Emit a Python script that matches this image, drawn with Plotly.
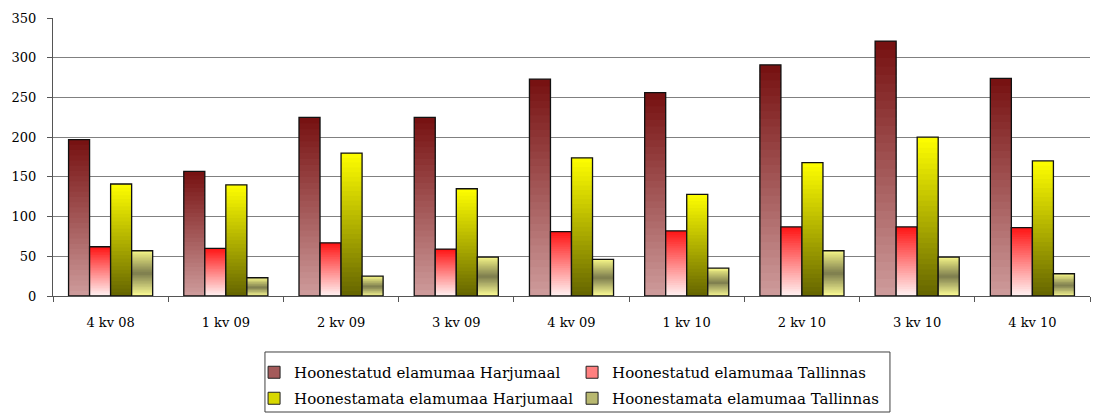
import plotly.graph_objects as go

categories = ["4 kv 08", "1 kv 09", "2 kv 09", "3 kv 09", "4 kv 09", "1 kv 10", "2 kv 10", "3 kv 10", "4 kv 10"]
built_harju = [197, 157, 225, 225, 273, 256, 291, 321, 274]
built_tallinn = [62, 60, 67, 59, 81, 82, 87, 87, 86]
unbuilt_harju = [141, 140, 180, 135, 174, 128, 168, 200, 170]
unbuilt_tallinn = [57, 23, 25, 49, 46, 35, 57, 49, 28]
series_names = [
    "Hoonestatud elamumaa Harjumaal",
    "Hoonestatud elamumaa Tallinnas",
    "Hoonestamata elamumaa Harjumaal",
    "Hoonestamata elamumaa Tallinnas",
]
y_ticks = [0, 50, 100, 150, 200, 250, 300, 350]

# gradient stops (fraction from bottom, rgb) -- styling only
gradients = [
    [(0.0, (206, 156, 156)), (1.0, (118, 16, 16))],
    [(0.0, (255, 242, 242)), (1.0, (255, 20, 20))],
    [(0.0, (100, 100, 0)), (1.0, (255, 255, 0))],
    [(0.0, (255, 255, 150)), (0.5, (125, 125, 78)), (1.0, (245, 245, 135))],
]
legend_colors = ["#a45a5a", "#ff8080", "#d8d800", "#b8b870"]

def interp(stops, t):
    for (t0, c0), (t1, c1) in zip(stops[:-1], stops[1:]):
        if t0 <= t <= t1:
            f = (t - t0) / (t1 - t0) if t1 > t0 else 0
            return "rgb(%d,%d,%d)" % tuple(round(a + (b - a) * f) for a, b in zip(c0, c1))
    return "rgb(%d,%d,%d)" % stops[-1][1]

N = 30
all_series = [built_harju, built_tallinn, unbuilt_harju, unbuilt_tallinn]
font_family = "DejaVu Serif"

fig = go.Figure()
for s, vals in enumerate(all_series):
    grp = "g%d" % s
    for i in range(N):
        t = (i + 0.5) / N
        scale = 1.0 if i == N - 1 else 1.8  # overlap to hide seams
        fig.add_trace(go.Bar(
            x=categories,
            y=[v / N * scale for v in vals],
            base=[v * i / N for v in vals],
            offsetgroup=grp,
            marker=dict(color=interp(gradients[s], t), line=dict(width=0)),
            showlegend=False,
            hoverinfo="skip",
        ))
    # outline
    fig.add_trace(go.Bar(
        x=categories, y=vals, offsetgroup=grp,
        marker=dict(color="rgba(0,0,0,0)", line=dict(color="#111111", width=1.3)),
        showlegend=False, name=series_names[s],
    ))
    # legend entry
    fig.add_trace(go.Bar(
        x=categories, y=[None] * len(categories), offsetgroup=grp,
        name=series_names[s],
        marker=dict(color=legend_colors[s], line=dict(color="#222222", width=1)),
        showlegend=True,
        legend="legend" if s < 2 else "legend2",
    ))

legend_common = dict(
    orientation="h", xanchor="left", yanchor="top",
    xref="container", yref="container",
    font=dict(family=font_family, size=15, color="#000000"),
    bgcolor="rgba(0,0,0,0)", borderwidth=0,
    entrywidth=273, itemwidth=30, tracegroupgap=0,
)

fig.update_layout(
    width=1097, height=416,
    margin=dict(l=53, r=7, t=18, b=120, autoexpand=False),
    barmode="group", bargap=0.27, bargroupgap=0,
    plot_bgcolor="white", paper_bgcolor="white",
    font=dict(family=font_family, size=13, color="#000000"),
    legend=dict(x=0.2316, y=1 - 356 / 416, **legend_common),
    legend2=dict(x=0.2316, y=1 - 382 / 416, **legend_common),
    shapes=[dict(type="rect", xref="paper", yref="paper",
                 x0=0.2044, x1=0.8071, y0=-0.4173, y1=-0.2014,
                 line=dict(color="#404040", width=1), fillcolor="rgba(0,0,0,0)")],
)
fig.update_yaxes(
    range=[0, 350], tickvals=y_ticks,
    showgrid=True, gridcolor="#808080", gridwidth=1,
    showline=True, linecolor="#555555", linewidth=1,
    ticks="outside", ticklen=5, tickcolor="#555555",
    zeroline=False, tickfont=dict(size=13), ticklabelstandoff=8,
)
fig.update_xaxes(
    showline=True, linecolor="#555555", linewidth=1,
    ticks="outside", ticklen=5, tickcolor="#555555",
    tickson="boundaries", showgrid=False, tickfont=dict(size=13),
    ticklabelstandoff=14,
)

fig.write_html("out.html", post_script="document.body.style.margin='0px';",
               config={"displayModeBar": False})
